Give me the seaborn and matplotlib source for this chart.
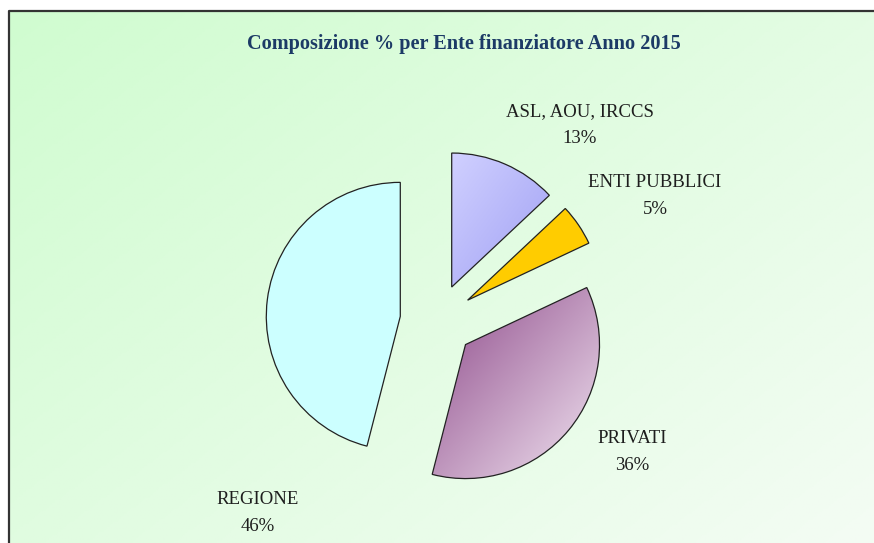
import numpy as np
import matplotlib
matplotlib.use("Agg")
import matplotlib.pyplot as plt
from matplotlib.colors import LinearSegmentedColormap
import seaborn as sns

# data
enti = ["ASL, AOU, IRCCS", "ENTI PUBBLICI", "PRIVATI", "REGIONE"]
quote = [13, 5, 36, 46]
colori = ["#c4c4fc", "#ffcc00", "#c09ac0", "#ccffff"]

sns.set_style("white")
plt.rcParams['font.family'] = ['Liberation Serif', 'DejaVu Serif']

W, H = 874, 543
fig = plt.figure(figsize=(W / 100, H / 100), dpi=100)
ax = fig.add_axes([0, 0, 1, 1])

# background gradient (light green -> almost white)
xx, yy = np.meshgrid(np.linspace(0, 1, 300), np.linspace(0, 1, 200))
bg = LinearSegmentedColormap.from_list("bg", ["#d0fcd0", "#f4fcf4"])
ax.imshow((xx * 0.55 + yy * 0.45), cmap=bg, extent=(9, W, 0, H - 11),
          origin="upper", aspect="auto", zorder=0)
ax.plot([9, 9, W], [0, H - 11, H - 11], color="#333333", lw=1.6, zorder=1)

# pie, exploded
cx, cy, r = 437, H - 321, 134
wedges, _ = ax.pie(quote, colors=colori, startangle=90, counterclock=False,
                   explode=[37] * len(quote), center=(cx, cy), radius=r,
                   wedgeprops=dict(edgecolor="#222222", linewidth=0.9))

# gradient fills for two slices
grads = {0: ["#d0d0ff", "#a0a0f4"], 2: ["#8e4a8a", "#f2e6f2"]}
for i, cols in grads.items():
    w = wedges[i]
    v = w.get_path().vertices
    x0, x1 = v[:, 0].min(), v[:, 0].max()
    y0, y1 = v[:, 1].min(), v[:, 1].max()
    g = xx * 0.5 + yy * 0.5
    im = ax.imshow(g, cmap=LinearSegmentedColormap.from_list("g%d" % i, cols),
                   extent=(x0, x1, y0, y1), origin="upper", aspect="auto", zorder=2)
    im.set_clip_path(w)
    w.set_facecolor("none")
for w in wedges:
    w.set_zorder(3)

# labels
label_pos = [(580, 125), (655, 196), (632, 452), (258, 513)]
for nome, q, (lx, ly) in zip(enti, quote, label_pos):
    ax.text(lx, H - ly, "%s\n%d%%" % (nome, q), ha="center", va="center",
            fontsize=13.5, color="#1e1e1e", linespacing=1.7, zorder=4)

ax.text(464, H - 44, "Composizione % per Ente finanziatore Anno 2015",
        ha="center", va="center", fontsize=14.6, fontweight="bold",
        color="#1c3a66", zorder=4)

ax.set_xlim(0, W)
ax.set_ylim(0, H)
ax.set_aspect("auto")
ax.axis("off")
fig.savefig("out.png", dpi=100, facecolor="white")
